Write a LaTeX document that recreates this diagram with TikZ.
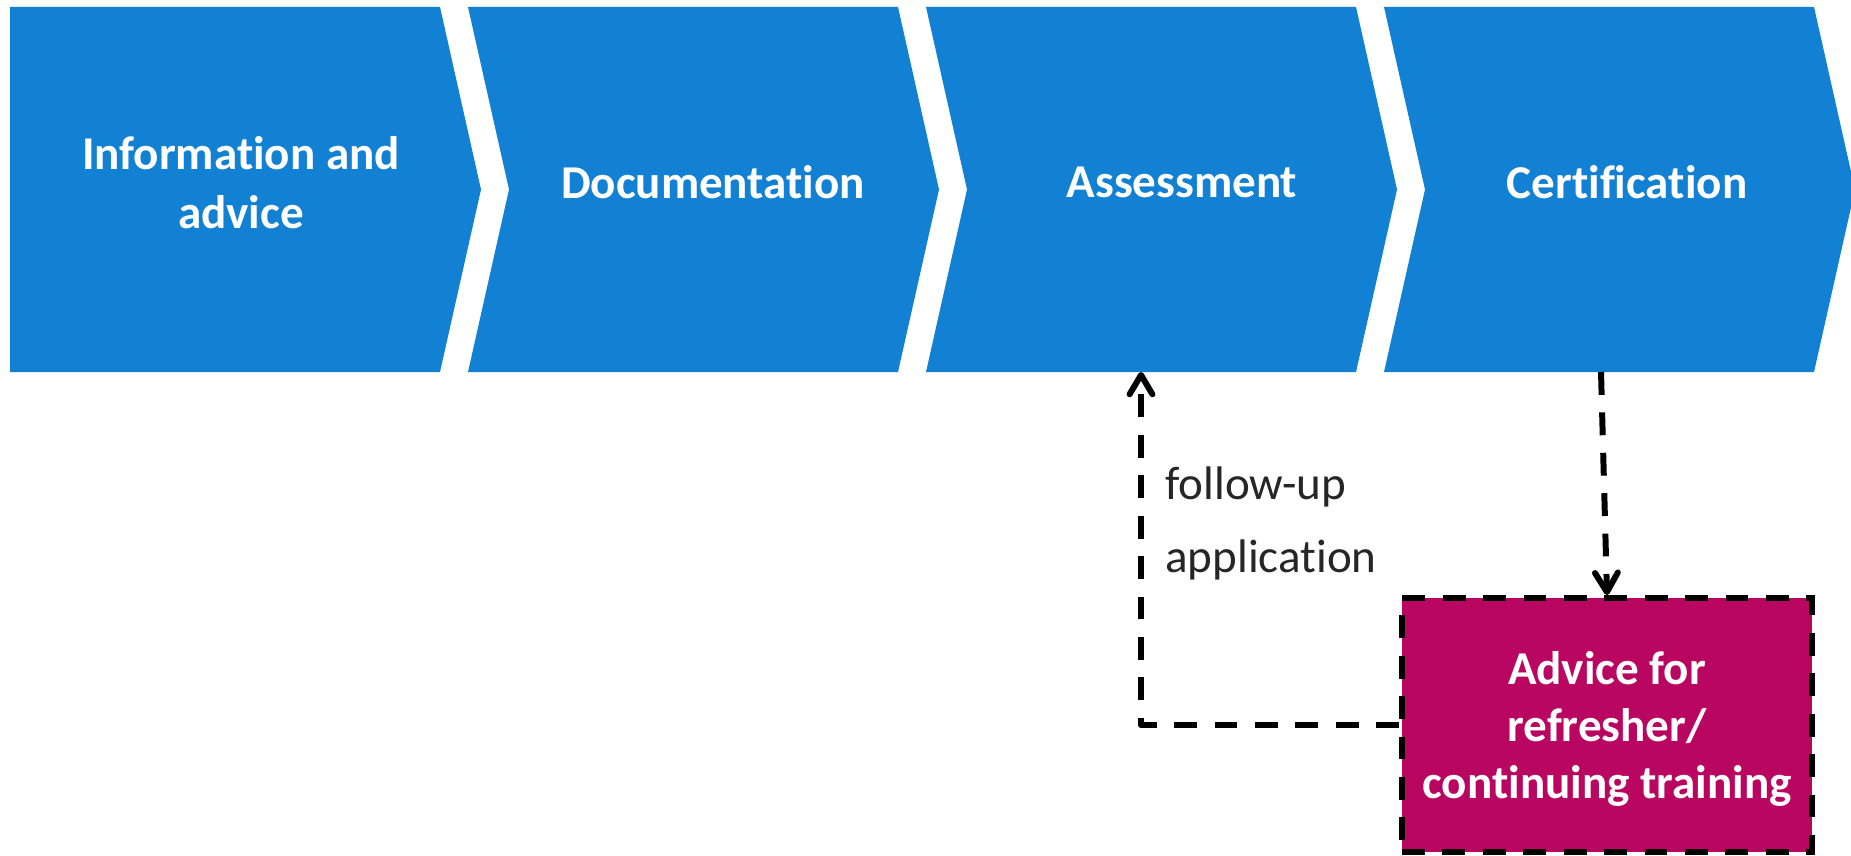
\documentclass[tikz,border=0pt]{standalone}
\usepackage{fontspec}
\setmainfont{Carlito}[Ligatures=NoCommon]
\usetikzlibrary{arrows.meta}
\definecolor{stepblue}{RGB}{18,129,211}
\definecolor{advicered}{RGB}{185,6,96}
\definecolor{notegray}{RGB}{38,38,38}

\begin{document}
\begin{tikzpicture}[
  x=0.02cm, y=-0.02cm,
  chevron/.style={fill=stepblue, draw=none},
  steplabel/.style={text=white, font=\fontsize{26.8}{33.6}\selectfont\bfseries, align=center, inner sep=0pt},
  advicebox/.style={rectangle, fill=advicered, draw=black, line width=3.4pt, dash pattern=on 13pt off 10pt,
    minimum width=8.2cm, minimum height=5.08cm, inner sep=0pt, text depth=0pt, text=white, align=center,
    font=\fontsize{26.8}{32.4}\selectfont\bfseries},
  flow/.style={draw=black, line width=3.4pt, dash pattern=on 13pt off 10pt, line join=round,
    -{Straight Barb[length=11pt,width=13pt,line cap=round,line join=round]}},
  note/.style={text=notegray, font=\fontsize{26.8}{41.5}\selectfont, align=left, inner sep=0pt}
]
\useasboundingbox (0,0) rectangle (1851,855);

% process steps
\fill[chevron] (10,7) -- (440,7) -- (481,189.5) -- (440,372) -- (10,372) -- cycle;
\foreach \x in {468,926,1384}
  \fill[chevron] (\x,7) -- ++(430,0) -- ++(41,182.5) -- ++(-41,182.5) -- ++(-430,0) -- ++(41,-182.5) -- cycle;

\node[steplabel] (info) at (241,183) {Information and\\advice};
\node[steplabel] (docu) at (713,182.5) {Documentation};
\node[steplabel] (assess) at (1182,182.5) {Assessment};
\node[steplabel] (cert) at (1627,182) {Certification};

% refresher advice
\node[advicebox] (advice) at (1607,725) {Advice for\\refresher/\\continuing training};
\node[note, anchor=west] (followup) at (1165,523) {follow-up\\application};

\coordinate (assess-in) at (1141,372);
\coordinate (cert-out) at (1601,372);

\draw[flow] (advice.west) -| (assess-in);
\draw[flow] (cert-out) -- (advice.north);
\end{tikzpicture}
\end{document}
